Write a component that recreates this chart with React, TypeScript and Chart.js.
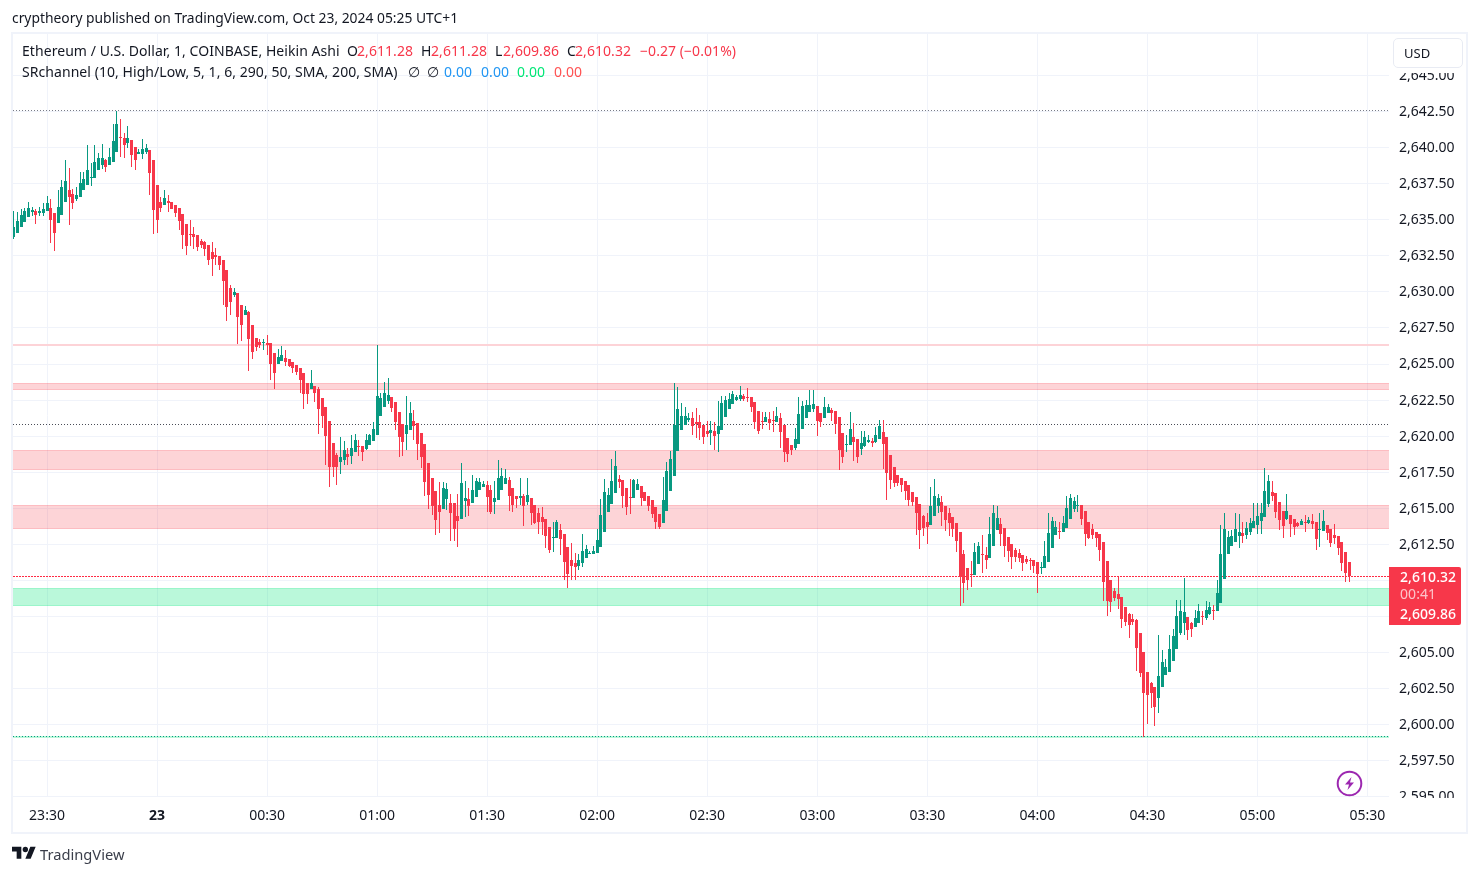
import React, { useEffect, useRef } from "react";
import { Chart, registerables } from "chart.js";

Chart.register(...registerables);

const FONT = '"Noto Sans", sans-serif';
const GREEN = "#089981";
const RED = "#f7374a";

const firstMinute = -9;
const sides = [
  "GGGGGGRGGG","RRGGGRRGGG","GGGGGRGGGR","RGRRGGGRRR","RGRRRRRRRR","RRRRRRRRRR","GRRGRRRRGR","RRG",
  "GRRRRRR","RGRRRRRRRG","GRGGRRGGGG","GGGRRRRGGR","RRRRRRRGGR","RRGGRGGGGR","RGGGGRRRGR","GRRR",
  "RRRGGR","RRRRGGGGGG","GGGGGRRRRG","GRRRRRRGGG","GGGGGRRRRR","GRGGGGGGGR","RRRRRGRRGR","RRRG",
  "GGGGGR","RGGRRRRGGR","RGGGRGGRRR","RRRRRRRRRR","GGGRRRRRRR","RRGGRRGGGR","RRRRRRRRRR","GGGGG",
  "RGGGG","GRRRRRRRRR","RRRRRRRRRR","RRGGGGGGGG","RRGGRGGRGG","GGGGGRGGGG","GGGRRRRGRR","RGRGRRGGRR","RRRRR",
].join("");

const highs = [
  2635.58,2635.51,2635.72,2635.83,2636.20,2635.92,2635.72,2635.92,2636.13,2636.62,
  2636.41,2635.44,2637.03,2637.79,2639.11,2638.62,2637.10,2637.24,2638.28,2638.28,
  2640.21,2638.97,2640.15,2639.66,2640.28,2639.18,2640.01,2641.67,2642.57,2642.01,
  2641.05,2641.53,2640.56,2640.08,2639.94,2640.63,2640.28,2639.87,2639.11,2637.38,
  2636.55,2637.03,2636.75,2636.20,2635.99,2635.79,2635.37,2634.68,2634.95,2634.47,
  2633.92,2633.64,2633.50,2633.22,2633.43,2633.02,2632.46,2632.19,2631.49,2630.46,
  2630.25,2629.90,2629.07,2629.00,2628.66,2627.69,2626.79,2626.72,2626.72,2627.00,
  2626.44,2625.75,2626.03,2626.23,2625.96,2625.33,2625.13,2624.92,2624.71,2624.36,
  2623.67,2624.57,2623.46,2623.39,2622.63,2622.01,2621.04,2619.52,2618.83,2619.93,
  2619.66,2619.17,2620.07,2620.14,2619.73,2619.31,2620.14,2620.14,2620.97,2626.30,
  2622.98,2623.74,2624.02,2622.70,2622.36,2621.66,2620.83,2622.77,2622.36,2621.80,
  2620.90,2620.21,2619.45,2618.13,2617.10,2616.20,2616.82,2616.82,2616.75,2615.99,
  2615.37,2615.99,2618.13,2616.89,2616.40,2617.30,2617.10,2617.10,2616.89,2616.89,
  2616.61,2616.89,2618.34,2617.79,2617.72,2617.17,2616.40,2615.85,2617.10,2615.99,
  2617.10,2615.71,2615.23,2615.02,2615.09,2614.26,2613.70,2614.05,2614.19,2613.91,
  2613.22,2612.32,2612.60,2611.90,2611.84,2613.22,2612.46,2612.04,2612.39,2613.57,
  2615.64,2617.03,2616.40,2618.41,2618.96,2617.30,2616.96,2616.40,2617.03,2617.03,
  2617.03,2616.54,2616.13,2615.85,2615.57,2615.09,2614.60,2617.16,2618.20,2618.96,
  2623.67,2623.39,2622.29,2622.01,2621.59,2621.66,2621.94,2621.46,2620.76,2621.04,
  2621.04,2620.97,2622.42,2622.77,2622.77,2622.98,2623.12,2622.84,2623.46,2622.91,
  2623.32,2622.70,2622.36,2621.73,2621.66,2621.66,2621.66,2621.73,2622.01,2621.59,
  2620.76,2619.86,2619.38,2620.56,2622.70,2622.43,2622.50,2623.19,2623.19,2622.08,
  2621.60,2622.70,2622.22,2621.94,2621.73,2621.32,2620.21,2620.07,2621.67,2620.90,
  2619.80,2620.35,2620.35,2620.07,2619.87,2620.63,2621.11,2621.11,2619.93,2618.69,
  2617.86,2617.31,2617.10,2616.89,2616.61,2616.13,2615.78,2615.30,2614.54,2614.67,
  2616.47,2617.03,2615.99,2615.85,2615.16,2615.02,2614.40,2613.98,2613.36,2612.11,
  2610.87,2611.35,2612.60,2612.67,2613.15,2612.32,2614.40,2615.23,2615.16,2614.33,
  2613.64,2613.01,2612.53,2612.25,2612.18,2611.77,2611.70,2611.56,2611.42,2611.28,
  2611.28,2612.74,2614.67,2614.40,2614.12,2614.05,2614.46,2615.85,2615.99,2615.78,
  2615.92,2615.23,2614.81,2614.05,2613.91,2613.36,2613.22,2612.66,2611.35,2610.03,
  2609.48,2610.24,2608.86,2608.17,2607.75,2607.68,2607.34,2606.37,2605.05,2603.67,
  2602.97,2602.63,2606.23,2605.19,2604.57,2606.23,2606.64,2608.65,2608.65,2610.17,
  2607.47,2607.13,2607.96,2608.37,2607.89,2608.58,2608.51,2608.30,2610.03,2613.84,
  2614.67,2613.43,2613.50,2614.67,2614.60,2614.05,2614.05,2614.33,2615.36,2615.36,
  2615.36,2617.79,2617.30,2616.89,2616.06,2615.43,2614.81,2615.99,2614.53,2614.26,
  2614.05,2614.26,2614.53,2614.39,2614.60,2614.05,2614.67,2614.88,2613.84,2613.56,
  2613.91,2613.08,2612.66,2611.97,2611.28,
];

const bodyTops = [
  2634.47,2634.89,2635.30,2635.58,2635.85,2635.65,2635.58,2635.58,2635.72,2636.13,
  2635.85,2635.44,2635.92,2637.24,2637.72,2637.03,2636.82,2636.75,2637.52,2637.86,
  2638.42,2638.00,2639.04,2639.31,2639.25,2639.11,2639.38,2640.49,2641.67,2640.77,
  2640.70,2640.70,2640.56,2640.08,2639.73,2639.94,2640.01,2639.87,2639.11,2637.38,
  2636.20,2636.48,2636.27,2636.20,2635.99,2635.79,2635.37,2634.68,2633.99,2633.99,
  2633.92,2633.50,2633.43,2633.22,2632.74,2632.53,2632.46,2632.19,2631.49,2630.25,
  2629.97,2629.90,2629.07,2628.73,2628.59,2627.69,2626.79,2626.51,2626.51,2626.44,
  2626.44,2625.75,2625.47,2625.61,2625.40,2625.33,2625.13,2624.92,2624.71,2624.36,
  2623.67,2623.67,2623.46,2623.26,2622.63,2622.01,2621.04,2619.52,2618.69,2618.55,
  2619.03,2618.76,2619.17,2619.73,2619.31,2619.31,2619.73,2620.07,2620.49,2622.77,
  2622.63,2622.98,2622.84,2622.70,2622.36,2621.66,2620.83,2620.76,2621.60,2621.04,
  2620.90,2620.21,2619.45,2618.13,2617.10,2616.20,2615.23,2616.40,2616.34,2615.37,
  2615.37,2614.47,2616.75,2615.71,2615.64,2616.27,2616.89,2616.82,2616.68,2616.61,
  2616.27,2615.71,2617.10,2617.24,2617.10,2616.96,2616.40,2615.85,2615.85,2615.85,
  2615.92,2615.71,2615.23,2614.67,2614.40,2614.26,2613.70,2613.01,2614.05,2613.50,
  2613.22,2612.32,2611.42,2611.21,2611.42,2612.04,2612.18,2611.90,2612.04,2612.80,
  2614.53,2616.13,2615.92,2616.89,2617.93,2617.03,2616.96,2616.40,2615.78,2616.96,
  2616.68,2616.54,2616.13,2615.85,2615.57,2615.09,2614.60,2615.57,2617.58,2618.41,
  2620.76,2621.87,2621.39,2621.39,2621.25,2621.25,2620.97,2620.97,2620.76,2620.35,
  2620.42,2620.35,2620.69,2622.29,2622.49,2622.56,2622.91,2622.70,2622.84,2622.77,
  2622.70,2622.70,2622.36,2621.73,2621.04,2621.32,2621.18,2621.11,2621.39,2621.25,
  2620.76,2619.86,2619.38,2619.79,2621.53,2622.08,2622.15,2622.15,2622.22,2622.08,
  2621.60,2622.01,2622.01,2621.80,2621.73,2621.32,2620.21,2619.45,2620.49,2619.93,
  2619.80,2619.52,2619.93,2619.73,2619.66,2620.07,2620.70,2620.28,2619.93,2618.69,
  2617.86,2617.31,2617.10,2616.89,2616.61,2616.13,2615.78,2615.30,2614.47,2614.05,
  2615.16,2615.85,2615.71,2615.44,2615.16,2614.67,2614.40,2613.98,2613.36,2611.84,
  2610.87,2610.45,2611.98,2612.39,2611.84,2611.77,2613.22,2614.67,2614.33,2613.91,
  2613.64,2613.01,2612.53,2612.11,2611.91,2611.77,2611.49,2611.42,2611.42,2611.28,
  2610.94,2611.70,2613.29,2614.12,2613.71,2613.43,2613.98,2615.02,2615.71,2615.50,
  2615.23,2615.23,2614.81,2614.05,2613.56,2613.36,2613.22,2612.66,2611.35,2610.03,
  2609.27,2609.07,2608.86,2608.17,2607.68,2607.34,2607.27,2606.37,2605.05,2603.67,
  2602.91,2602.63,2603.39,2604.36,2604.01,2605.26,2606.16,2607.54,2607.89,2607.82,
  2607.47,2607.06,2607.40,2607.89,2607.54,2607.96,2608.17,2607.96,2609.13,2611.83,
  2613.56,2613.01,2613.08,2613.56,2613.36,2613.29,2613.63,2613.98,2614.12,2614.46,
  2614.67,2616.19,2616.89,2616.13,2616.06,2615.43,2614.81,2614.81,2614.53,2614.26,
  2613.98,2614.12,2614.05,2614.19,2614.12,2614.05,2613.56,2614.12,2613.84,2613.56,
  2613.15,2613.08,2612.66,2611.97,2611.28,
];

const bodyBottoms = [
  2633.78,2634.06,2634.49,2634.82,2635.16,2635.51,2635.30,2635.44,2635.44,2635.58,
  2634.95,2634.06,2634.75,2635.30,2636.20,2636.55,2636.13,2636.41,2636.55,2637.03,
  2637.38,2637.93,2637.93,2638.42,2638.83,2638.69,2638.83,2639.04,2639.73,2640.70,
  2640.15,2640.35,2639.52,2639.11,2639.59,2639.59,2639.73,2638.21,2635.65,2634.95,
  2635.85,2635.99,2636.13,2635.72,2635.44,2634.89,2633.92,2633.16,2633.92,2633.78,
  2633.09,2633.22,2632.95,2632.19,2632.26,2632.39,2631.84,2630.73,2628.93,2629.28,
  2629.76,2628.24,2627.69,2628.38,2626.72,2625.82,2626.17,2626.30,2626.44,2626.30,
  2624.99,2624.37,2624.99,2625.19,2625.13,2624.85,2624.71,2624.43,2623.88,2622.91,
  2622.91,2623.26,2622.98,2621.87,2621.39,2620.00,2617.86,2617.86,2617.86,2618.20,
  2618.34,2618.55,2618.62,2618.90,2619.24,2618.90,2619.10,2619.38,2619.66,2620.07,
  2621.39,2622.01,2622.43,2621.94,2620.97,2619.93,2619.59,2620.14,2620.42,2620.70,
  2619.45,2618.55,2616.82,2615.92,2615.16,2614.19,2614.74,2614.95,2615.64,2614.67,
  2613.57,2614.12,2614.26,2615.51,2615.16,2615.37,2615.78,2616.27,2616.47,2615.78,
  2614.74,2615.44,2615.57,2616.27,2616.68,2615.85,2615.23,2615.64,2615.71,2615.16,
  2615.44,2614.67,2613.98,2614.05,2614.05,2613.08,2612.11,2612.94,2612.94,2612.87,
  2611.28,2610.45,2611.00,2610.93,2611.00,2611.21,2611.56,2611.84,2611.84,2611.90,
  2612.32,2613.36,2614.74,2615.30,2616.06,2616.82,2615.85,2615.09,2615.71,2615.71,
  2616.26,2615.71,2615.50,2615.16,2614.60,2614.05,2613.70,2613.98,2614.81,2616.20,
  2617.23,2618.96,2620.42,2620.76,2621.11,2620.69,2620.83,2620.56,2619.93,2620.14,
  2620.21,2620.00,2620.14,2620.42,2621.32,2621.87,2622.22,2622.49,2622.56,2622.56,
  2622.63,2622.01,2620.97,2620.35,2620.97,2620.97,2620.90,2621.04,2620.97,2620.28,
  2618.89,2618.76,2619.03,2619.17,2619.45,2620.49,2621.25,2621.67,2621.87,2621.04,
  2620.97,2621.25,2621.60,2621.60,2620.83,2619.04,2618.55,2619.38,2619.38,2619.59,
  2618.55,2619.10,2619.31,2619.59,2619.52,2619.59,2619.80,2619.45,2617.44,2616.96,
  2616.75,2616.75,2616.61,2616.20,2615.57,2615.44,2614.67,2613.50,2613.64,2613.71,
  2613.84,2614.47,2615.16,2614.74,2614.19,2613.98,2613.57,2612.74,2610.25,2609.83,
  2610.04,2610.38,2610.38,2611.15,2611.77,2611.42,2611.56,2612.39,2613.50,2613.22,
  2612.39,2612.04,2611.63,2611.63,2611.56,2611.21,2611.28,2611.35,2611.01,2610.45,
  2610.87,2610.87,2611.28,2612.25,2613.15,2613.36,2613.36,2613.63,2614.26,2614.95,
  2615.16,2614.26,2613.22,2612.94,2613.15,2612.94,2612.11,2609.90,2608.58,2608.51,
  2608.79,2608.72,2607.34,2607.13,2606.92,2607.13,2605.33,2603.60,2602.21,2602.07,
  2602.21,2601.25,2601.87,2602.63,2603.46,2603.67,2604.43,2605.26,2606.37,2607.06,
  2606.57,2606.64,2606.78,2607.06,2607.47,2607.40,2607.68,2607.89,2607.89,2608.44,
  2610.10,2611.83,2612.39,2612.66,2613.08,2613.08,2613.15,2613.36,2613.63,2613.84,
  2614.12,2614.39,2615.29,2615.85,2614.74,2614.19,2613.77,2614.26,2613.91,2613.70,
  2613.77,2613.84,2613.98,2613.98,2613.91,2612.87,2613.50,2613.43,2613.29,2612.60,
  2612.94,2612.25,2611.21,2610.52,2610.32,
];

const lows = [
  2633.64,2634.06,2634.49,2634.82,2635.16,2635.23,2634.68,2635.23,2635.23,2635.58,
  2633.36,2632.81,2634.75,2635.30,2636.20,2634.61,2635.72,2636.27,2636.55,2637.03,
  2637.38,2637.31,2637.93,2638.42,2638.55,2638.28,2638.83,2639.04,2639.73,2639.38,
  2639.25,2640.01,2638.69,2638.42,2639.59,2639.18,2639.59,2636.69,2633.99,2634.06,
  2635.51,2635.99,2635.51,2635.72,2635.16,2634.26,2632.95,2632.53,2633.16,2632.95,
  2632.81,2633.02,2632.46,2631.84,2631.08,2631.84,2631.49,2629.07,2627.96,2628.38,
  2629.63,2626.37,2626.58,2628.38,2624.50,2625.33,2625.89,2626.10,2625.96,2625.61,
  2623.88,2623.26,2624.99,2625.19,2624.85,2624.78,2624.36,2624.23,2622.98,2621.87,
  2622.22,2623.26,2622.36,2620.14,2620.56,2618.00,2616.47,2617.17,2616.61,2617.37,
  2618.00,2618.00,2618.07,2618.90,2618.62,2618.27,2619.03,2619.38,2619.66,2620.07,
  2621.39,2622.01,2622.22,2621.66,2620.42,2618.55,2618.62,2619.03,2620.42,2619.73,
  2618.34,2617.79,2615.85,2614.95,2614.54,2613.15,2613.29,2614.95,2614.88,2612.74,
  2612.74,2612.32,2614.26,2614.40,2614.47,2615.37,2615.78,2616.27,2616.47,2614.74,
  2614.61,2614.61,2615.57,2616.27,2616.68,2614.81,2614.74,2615.02,2615.23,2613.78,
  2615.23,2613.84,2613.91,2613.22,2613.15,2612.25,2611.90,2611.97,2612.94,2611.77,
  2610.04,2609.48,2610.04,2610.04,2610.73,2610.93,2611.56,2611.84,2611.84,2611.90,
  2612.32,2613.36,2614.74,2615.30,2616.06,2616.40,2615.02,2614.53,2614.60,2615.71,
  2616.26,2615.16,2615.50,2614.81,2614.33,2613.57,2613.57,2613.98,2614.81,2616.20,
  2617.23,2618.96,2620.42,2620.76,2620.97,2620.07,2619.86,2619.73,2619.45,2619.93,
  2619.38,2619.03,2618.89,2620.42,2621.32,2621.87,2622.22,2622.42,2622.42,2622.42,
  2622.36,2621.66,2620.49,2620.14,2620.49,2620.97,2620.42,2620.28,2620.97,2619.17,
  2618.20,2618.20,2618.69,2619.03,2619.45,2620.49,2621.25,2621.67,2621.67,2620.00,
  2620.63,2621.25,2621.60,2621.04,2620.14,2617.65,2618.14,2618.90,2619.38,2618.27,
  2618.14,2618.69,2619.24,2619.52,2619.24,2619.52,2619.80,2617.72,2615.57,2616.34,
  2616.47,2616.54,2616.13,2615.57,2615.16,2615.16,2613.15,2612.18,2613.08,2612.53,
  2613.84,2614.47,2614.67,2613.78,2613.43,2613.08,2613.01,2611.98,2608.24,2608.45,
  2609.35,2609.55,2610.38,2611.15,2610.52,2610.80,2611.56,2612.39,2613.50,2612.39,
  2611.63,2611.28,2610.80,2611.28,2611.28,2610.66,2611.15,2610.73,2610.52,2609.14,
  2610.45,2610.87,2611.28,2612.25,2613.15,2612.87,2613.36,2613.63,2614.26,2614.74,
  2614.74,2613.84,2612.39,2612.87,2612.87,2612.32,2611.35,2608.58,2607.54,2607.82,
  2608.58,2608.03,2606.71,2606.85,2606.02,2606.92,2603.74,2603.32,2599.17,2600.07,
  2601.18,2599.93,2600.83,2602.63,2603.46,2603.67,2604.43,2605.26,2606.23,2606.23,
  2605.88,2606.09,2606.78,2607.06,2606.92,2607.27,2607.61,2607.27,2607.89,2608.44,
  2610.10,2611.83,2612.39,2612.66,2612.25,2612.60,2612.87,2613.15,2613.63,2613.22,
  2613.22,2614.39,2615.09,2615.50,2614.33,2613.50,2612.94,2614.19,2613.01,2613.15,
  2613.70,2613.84,2613.36,2613.91,2613.56,2612.11,2612.32,2613.43,2612.80,2612.32,
  2612.53,2611.77,2610.66,2609.90,2609.86,
];

const xTickMinutes = [0, 30, 60, 90, 120, 150, 180, 210, 240, 270, 300, 330, 360];
const xTickLabels = ["23:30","23","00:30","01:00","01:30","02:00","02:30","03:00","03:30","04:00","04:30","05:00","05:30"];
const yTickValues = [2595,2597.5,2600,2602.5,2605,2607.5,2610,2612.5,2615,2617.5,2620,2622.5,2625,2627.5,2630,2632.5,2635,2637.5,2640,2642.5,2645];

const xMin = -9.27;
const xMax = 365.87;
const yMin = 2594.98;
const yMax = 2647.88;

const redBands = [[2623.65, 2623.21], [2618.97, 2617.70], [2615.2, 2613.6]];
const greenBand = [2609.46, 2608.26];
const thinRedLevel = 2626.3;
const highDotted = 2642.57;
const midDotted = 2620.8;
const lastDotted = 2610.26;
const lowDotted = 2599.17;

const RED_FILL = "rgba(247,57,75,0.22)";
const RED_EDGE = "rgba(247,57,75,0.26)";
const GREEN_FILL = "rgba(0,230,118,0.27)";
const GREEN_EDGE = "rgba(0,230,118,0.3)";

const fmt = (v: number) => v.toFixed(2).replace(/\B(?=(\d{3})(?!\d))/, ",");

const level = (y: number, extra: any) => ({
  type: "line",
  data: [{ x: xMin, y }, { x: xMax, y }],
  pointRadius: 0,
  borderWidth: 1,
  order: 5,
  ...extra,
});

const snapPlugin = {
  id: "snap",
  afterDatasetsUpdate(chart: any) {
    chart.data.datasets.forEach((ds: any, i: number) => {
      const meta = chart.getDatasetMeta(i);
      if (meta.type === "bar") {
        meta.data.forEach((el: any) => {
          el.x = Math.floor(el.x) + 0.5;
          el.y = Math.round(el.y);
          el.base = Math.round(el.base);
          if (el.base - el.y < 1) el.base = el.y + 1;
        });
      } else {
        meta.data.forEach((el: any) => {
          el.x = Math.round(el.x);
          el.y = ds.borderWidth % 2 === 0 ? Math.round(el.y) : Math.floor(el.y) + 0.5;
        });
      }
    });
  },
};

const Txt = ({ x, y, c = "#131722", s = 14, w = 400, o = 1, ls = 0.06, children }: any) => (
  <span
    style={{
      position: "fixed", left: x, top: y - 10, lineHeight: "20px", fontFamily: FONT,
      fontSize: s, fontWeight: w, color: c, opacity: o, whiteSpace: "pre", letterSpacing: ls,
    }}
  >
    {children}
  </span>
);

export default function App() {
  const ref = useRef<HTMLCanvasElement>(null);
  useEffect(() => {
    const times = highs.map((_, i) => i + firstMinute);
    const colors = highs.map((_, i) => (sides[i] === "G" ? GREEN : RED));
    const bandSets: any[] = [];
    redBands.forEach(([a, b]) => {
      bandSets.push(level(a, { borderColor: RED_EDGE, backgroundColor: RED_FILL, fill: "+1" }));
      bandSets.push(level(b, { borderColor: RED_EDGE, fill: false }));
    });
    bandSets.push(level(greenBand[0], { borderColor: GREEN_EDGE, backgroundColor: GREEN_FILL, fill: "+1" }));
    bandSets.push(level(greenBand[1], { borderColor: GREEN_EDGE, fill: false }));
    const chart = new Chart(ref.current as HTMLCanvasElement, {
      type: "bar",
      plugins: [snapPlugin],
      data: {
        datasets: [
          {
            data: times.map((x, i) => ({ x, y: [bodyBottoms[i], bodyTops[i]] })),
            backgroundColor: colors, barThickness: 3, grouped: false, inflateAmount: 0, order: 1,
            minBarLength: 1,
          },
          {
            data: times.map((x, i) => ({ x, y: [lows[i], highs[i]] })),
            backgroundColor: colors, barThickness: 1, grouped: false, inflateAmount: 0, order: 2,
          },
          level(highDotted, { borderColor: "#787b86", borderDash: [1, 2], fill: false }),
          level(midDotted, { borderColor: "#4a4d57", borderDash: [1, 2], fill: false }),
          level(lastDotted, { borderColor: "#ff2a44", borderDash: [2, 1], fill: false }),
          level(lowDotted, { borderColor: GREEN, borderDash: [1, 2], fill: false }),
          level(lowDotted, { borderColor: "#baf8da", borderWidth: 2, fill: false }),
          level(thinRedLevel, { borderColor: "#fdd3d7", borderWidth: 2, fill: false }),
          ...bandSets,
        ] as any,
      },
      options: {
        responsive: false,
        animation: false,
        layout: { padding: { left: 13, top: 34, right: 13, bottom: 43 } },
        plugins: { legend: { display: false }, tooltip: { enabled: false }, title: { display: false } },
        events: [],
        scales: {
          x: {
            type: "linear", min: xMin, max: xMax, offset: false,
            grid: { color: "#f0f3fa", offset: false, drawTicks: false },
            border: { display: false },
            afterBuildTicks: (s: any) => { s.ticks = xTickMinutes.map((value) => ({ value })); },
            afterFit: (s: any) => { s.height = 35; },
            ticks: {
              autoSkip: false, maxRotation: 0, padding: 11, color: "#131722",
              font: (c: any) => ({
                family: FONT, size: 14,
                weight: xTickLabels[xTickMinutes.indexOf(c.tick?.value)] === "23" ? "bold" : "normal",
              }),
              callback: (v: any) => xTickLabels[xTickMinutes.indexOf(v)],
            },
          },
          y: {
            type: "linear", position: "right", min: yMin, max: yMax,
            grid: { color: "#f0f3fa", drawTicks: false },
            border: { display: false },
            afterBuildTicks: (s: any) => { s.ticks = yTickValues.map((value) => ({ value })); },
            afterFit: (s: any) => { s.width = 77; },
            ticks: {
              autoSkip: false, padding: 10, color: "#131722", labelOffset: 0.5,
              font: { family: FONT, size: 14 },
              callback: (v: any) => fmt(Number(v)),
            },
          },
        },
      } as any,
    });
    return () => chart.destroy();
  }, []);

  return (
    <>
      <canvas ref={ref} width={1479} height={875} style={{ position: "fixed", left: 0, top: 0, display: "block" }} />
      <div style={{ position: "fixed", left: 1390, top: 34, width: 76, height: 39, background: "#fff" }} />
      <div style={{ position: "fixed", left: 1390, top: 798, width: 76, height: 34, background: "#fff" }} />
      <div style={{ position: "fixed", left: 11, top: 32, width: 1453, height: 798, border: "2px solid #f0f3fa" }} />
      <div style={{
        position: "fixed", left: 1393, top: 38, width: 68, height: 28, background: "#fff",
        border: "1px solid #e8ebf3", borderRadius: 5,
      }} />
      <Txt x={1404} y={53} s={13}>USD</Txt>

      <Txt x={12} y={18} s={13.85} ls={0}>cryptheory published on TradingView.com, Oct 23, 2024 05:25 UTC+1</Txt>
      <Txt x={22} y={51}>Ethereum / U.S. Dollar, 1, COINBASE, Heikin Ashi</Txt>
      <Txt x={347} y={51}>O</Txt><Txt x={357} y={51} c={RED}>2,611.28</Txt>
      <Txt x={421} y={51}>H</Txt><Txt x={431} y={51} c={RED}>2,611.28</Txt>
      <Txt x={495} y={51}>L</Txt><Txt x={503} y={51} c={RED}>2,609.86</Txt>
      <Txt x={567} y={51}>C</Txt><Txt x={575} y={51} c={RED}>2,610.32</Txt>
      <Txt x={640} y={51} c={RED}>−0.27 (−0.01%)</Txt>
      <Txt x={22} y={72}>SRchannel (10, High/Low, 5, 1, 6, 290, 50, SMA, 200, SMA)</Txt>
      <Txt x={408} y={72}>∅</Txt><Txt x={427} y={72}>∅</Txt>
      <Txt x={444} y={72} c="#2196f3">0.00</Txt>
      <Txt x={481} y={72} c="#2196f3">0.00</Txt>
      <Txt x={517} y={72} c="#00e676">0.00</Txt>
      <Txt x={554} y={72} c="#ff5252">0.00</Txt>

      <div style={{
        position: "fixed", left: 1389, top: 567, width: 72, height: 58, background: RED,
        borderRadius: "0 2px 2px 0",
      }} />
      <Txt x={1400} y={577} c="#fff" w={500}>2,610.32</Txt>
      <Txt x={1400} y={594} c="#fff" o={0.7}>00:41</Txt>
      <Txt x={1400} y={614} c="#fff" w={500}>2,609.86</Txt>

      <svg style={{ position: "fixed", left: 1336, top: 770 }} width={27} height={27} viewBox="0 0 27 27">
        <circle cx="13.5" cy="13.5" r="11.8" fill="#fff" stroke="#9c27b0" strokeWidth="2" />
        <path d="M15.5 7 L9 14.6 H13 L11.5 20 L18 12.4 H14 Z" fill="#9c27b0" />
      </svg>

      <svg style={{ position: "fixed", left: 12, top: 844 }} width={24} height={19} viewBox="0 0 36 28">
        <path d="M14 22H7V11H0V4h14v18zM28 22h-8l7.5-18h8L28 22z" fill="#131722" />
        <circle cx="20" cy="8" r="4" fill="#131722" />
      </svg>
      <Txt x={40} y={854} s={14.7} ls={0} c="#3a3e4a">TradingView</Txt>
    </>
  );
}
